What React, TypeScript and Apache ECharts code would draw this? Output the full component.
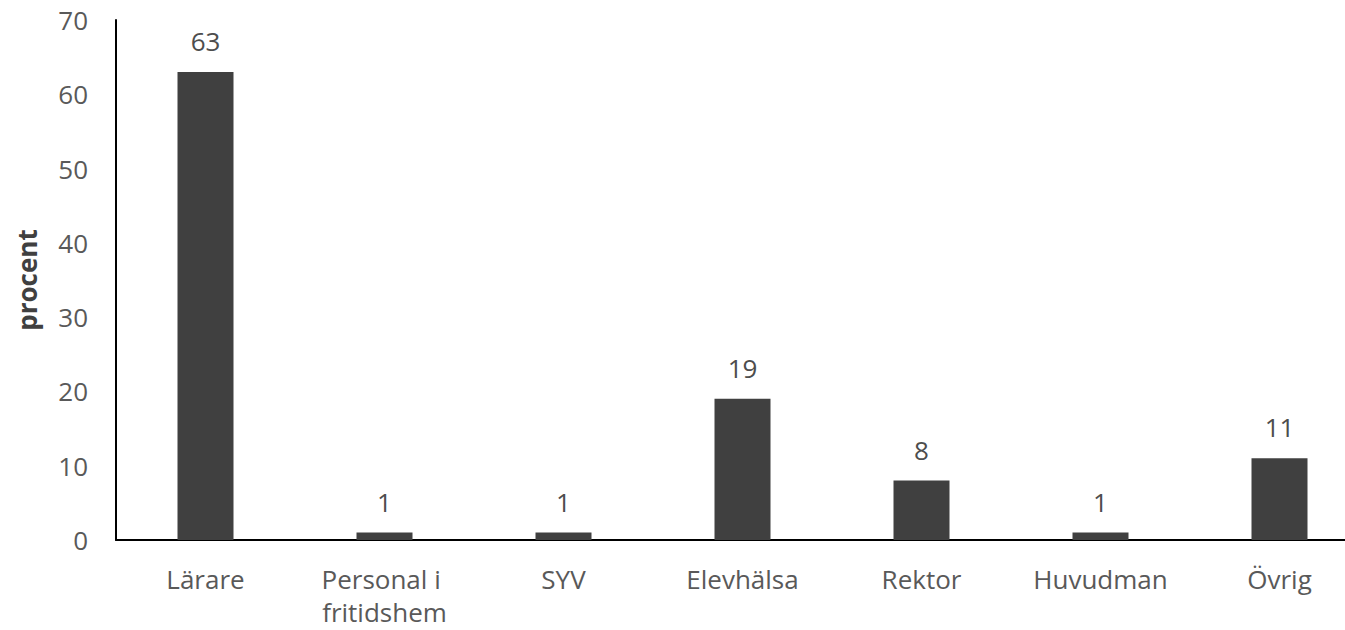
import React, { useEffect, useRef } from "react";
import * as echarts from "echarts";

const categories = ["Lärare", "Personal i fritidshem", "SYV", "Elevhälsa", "Rektor", "Huvudman", "Övrig"];
const values = [63, 1, 1, 19, 8, 1, 11];
const yAxisName = "procent";

export default function App() {
  const ref = useRef<HTMLDivElement>(null);
  useEffect(() => {
    const chart = echarts.init(ref.current!, null, { renderer: "svg" });
    const font = "'Open Sans', sans-serif";
    chart.setOption({
      animation: false,
      grid: { left: 116, top: 20, bottom: 90, right: 0, containLabel: false },
      xAxis: {
        type: "category",
        data: categories,
        axisLine: { lineStyle: { color: "#000", width: 2 } },
        axisTick: { show: false },
        axisLabel: {
          color: "#595959",
          fontSize: 26,
          fontFamily: font,
          lineHeight: 33,
          margin: 22,
          width: 170,
          overflow: "break",
          interval: 0,
        },
      },
      yAxis: {
        type: "value",
        min: 0,
        max: 70,
        interval: 10,
        name: yAxisName,
        nameLocation: "middle",
        nameGap: 76,
        nameTextStyle: { color: "#404040", fontSize: 26, fontWeight: "bold", fontFamily: font },
        axisLine: { show: true, lineStyle: { color: "#000", width: 2 } },
        axisTick: { show: false },
        splitLine: { show: false },
        axisLabel: { color: "#595959", fontSize: 26, fontFamily: font, margin: 28 },
      },
      series: [
        {
          type: "bar",
          data: values,
          barWidth: 56,
          itemStyle: { color: "#404040" },
          label: {
            show: true,
            position: "top",
            distance: 18,
            color: "#4d4d4d",
            fontSize: 26,
            fontFamily: font,
          },
        },
      ],
    });
    return () => chart.dispose();
  }, []);
  return (
    <div style={{ position: "fixed", left: 0, top: 0, width: 1345, height: 630, overflow: "hidden", background: "#fff" }}>
      <div ref={ref} style={{ width: 1369, height: 630 }} />
    </div>
  );
}
